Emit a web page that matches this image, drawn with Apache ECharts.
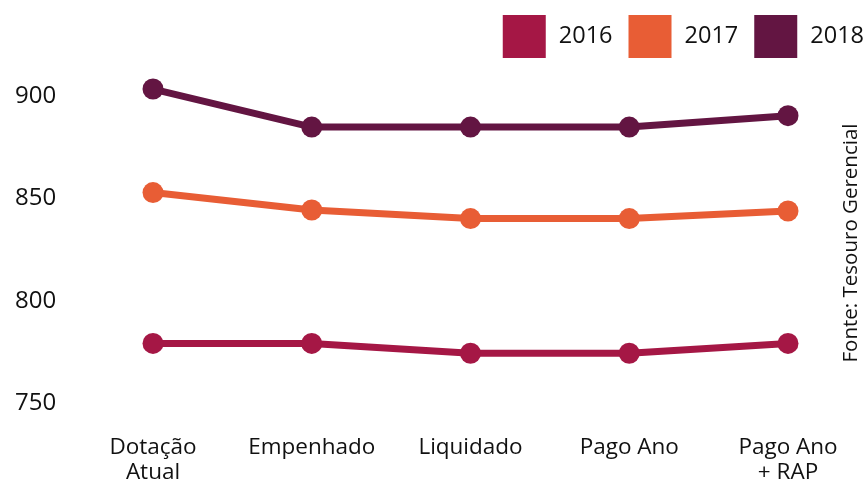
<!DOCTYPE html>
<html>
<head>
<meta charset="utf-8">
<script src="https://cdn.jsdelivr.net/npm/echarts@6/dist/echarts.min.js"></script>
<style>html,body{margin:0;padding:0;background:#fff}#c{width:865px;height:485px}</style>
</head>
<body>
<div id="c"></div>
<script>
var categories = ["Dotação\nAtual", "Empenhado", "Liquidado", "Pago Ano", "Pago Ano\n+ RAP"];
var s2016 = [779.1, 779.1, 774.3, 774.3, 779.1];
var s2017 = [852.8, 844.3, 840.1, 840.1, 843.8];
var s2018 = [903.4, 884.8, 884.8, 884.8, 890.4];
var yTicks = [750, 800, 850, 900];
var seriesNames = ["2016", "2017", "2018"];
var colors = ["#A51745", "#E85D35", "#631542"];

var font = "'Open Sans', 'Noto Sans', sans-serif";
var chart = echarts.init(document.getElementById('c'));
function mk(name, data, color) {
  return {
    name: name, type: 'line', data: data, clip: false,
    symbol: 'circle', symbolSize: 21,
    lineStyle: { width: 7, color: color },
    itemStyle: { color: color },
    emphasis: { disabled: true }
  };
}
chart.setOption({
  animation: false,
  textStyle: { fontFamily: font },
  grid: { left: 153, right: 77, top: 96, bottom: 80, containLabel: false },
  legend: {
    right: -4, top: 10, icon: 'rect', itemWidth: 43, itemHeight: 43, itemGap: 16,
    textStyle: { fontSize: 23.5, color: '#111', fontFamily: font, padding: [0, 0, 0, 8] },
    data: seriesNames
  },
  xAxis: {
    type: 'category', data: categories, boundaryGap: false,
    axisLine: { show: false }, axisTick: { show: false }, splitLine: { show: false },
    axisLabel: { interval: 0, fontSize: 22.5, color: '#111', margin: 32, lineHeight: 25, fontFamily: font }
  },
  yAxis: {
    type: 'value', min: yTicks[0], max: yTicks[yTicks.length - 1], interval: 50,
    axisLine: { show: false }, axisTick: { show: false }, splitLine: { show: false },
    axisLabel: { fontSize: 24, color: '#111', align: 'left', margin: 138, fontFamily: font, padding: [3, 0, 0, 0] }
  },
  graphic: [{
    type: 'text', x: 851, y: 243, rotation: Math.PI / 2,
    style: { text: 'Fonte: Tesouro Gerencial', fontSize: 20.5, fill: '#111', fontFamily: font,
      align: 'center', verticalAlign: 'middle' }
  }],
  series: [mk(seriesNames[0], s2016, colors[0]), mk(seriesNames[1], s2017, colors[1]), mk(seriesNames[2], s2018, colors[2])]
});
</script>
</body>
</html>
